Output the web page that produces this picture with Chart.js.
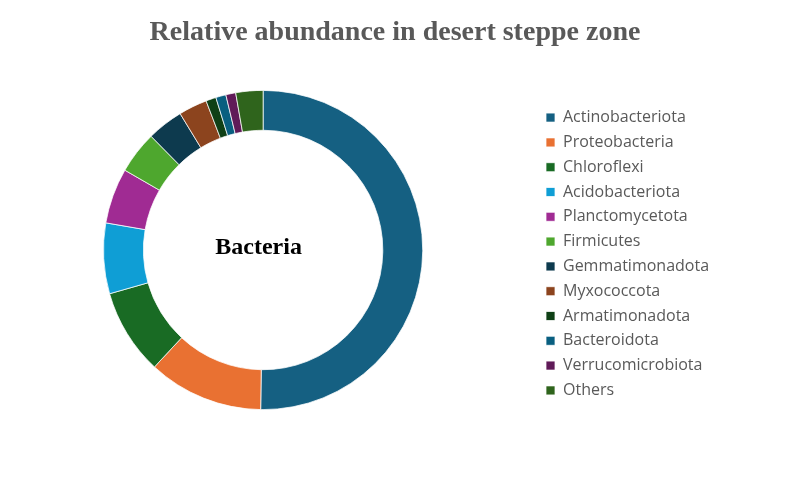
<!DOCTYPE html>
<html>
<head>
<meta charset="utf-8">
<script src="https://cdn.jsdelivr.net/npm/chart.js@4.4.1/dist/chart.umd.min.js"></script>
<style>
  html, body { margin: 0; padding: 0; background: #ffffff; overflow: hidden; }
  #wrap { width: 790px; height: 486px; position: relative; overflow: hidden; }
  #c { position: absolute; left: -11px; top: 0; }
</style>
</head>
<body>
<div id="wrap"><canvas id="c" width="801" height="486"></canvas></div>
<script>
// ---- data ----
const chartTitle = 'Relative abundance in desert steppe zone';
const centerLabel = 'Bacteria';
const categories = [
  'Actinobacteriota', 'Proteobacteria', 'Chloroflexi', 'Acidobacteriota',
  'Planctomycetota', 'Firmicutes', 'Gemmatimonadota', 'Myxococcota',
  'Armatimonadota', 'Bacteroidota', 'Verrucomicrobiota', 'Others'
];
const abundance = [50.25, 11.67, 8.67, 7.14, 5.61, 4.29, 3.68, 2.89, 1.03, 1.03, 1.00, 2.75];
const sliceColors = [
  '#156082', '#E97132', '#196B24', '#0F9ED5', '#A02B93', '#4EA72E',
  '#0D3A4E', '#8C441E', '#0F4016', '#095F80', '#601A58', '#2F641C'
];

// ---- layout helpers ----
const canvasShift = 11;              // canvas is shifted left by this many px
const canvasWidth = 790 + canvasShift;
const legendFontFamily = '"Open Sans", "Noto Sans", sans-serif';
const legendFontSize = 16;
const legendPad = 8.8;
const legendBox = 9;
const legendBoxX = 546 + canvasShift;

const mctx = document.createElement('canvas').getContext('2d');
mctx.font = legendFontSize + 'px ' + legendFontFamily;
const maxText = Math.max(...categories.map(t => mctx.measureText(t).width));
const legendWidth = legendPad + legendBox + legendFontSize / 2 + maxText + 10;
const legendLeft = legendBoxX - legendPad;
const padRight = canvasWidth - legendLeft - legendWidth;

const textPlugin = {
  id: 'texts',
  afterDraw(chart) {
    const ctx = chart.ctx;
    ctx.save();
    ctx.textAlign = 'center';
    ctx.textBaseline = 'alphabetic';
    ctx.fillStyle = '#595959';
    ctx.font = 'bold 28px "Liberation Serif", "Times New Roman", serif';
    ctx.fillText(chartTitle, 395 + canvasShift, 40);
    const arc = chart.getDatasetMeta(0).data[0];
    ctx.fillStyle = '#000000';
    ctx.font = 'bold 24px "Liberation Serif", "Times New Roman", serif';
    ctx.fillText(centerLabel, arc.x - 4.5, arc.y + 3.5);
    ctx.restore();
  }
};

new Chart(document.getElementById('c'), {
  type: 'doughnut',
  data: {
    labels: categories,
    datasets: [{
      data: abundance,
      backgroundColor: sliceColors,
      borderColor: '#ffffff',
      borderWidth: 0.75,
      hoverOffset: 0
    }]
  },
  options: {
    responsive: false,
    animation: false,
    cutout: '75%',
    layout: { padding: { left: 0, right: padRight, top: 90, bottom: 76 } },
    plugins: {
      title: { display: false },
      tooltip: { enabled: true },
      legend: {
        display: true,
        position: 'right',
        align: 'center',
        title: { display: true, text: '', padding: 0, font: { size: 8, lineHeight: 1 } },
        labels: {
          boxWidth: legendBox,
          boxHeight: legendBox,
          padding: legendPad,
          color: '#595959',
          font: { family: legendFontFamily, size: legendFontSize }
        }
      }
    }
  },
  plugins: [textPlugin]
});
</script>
</body>
</html>
